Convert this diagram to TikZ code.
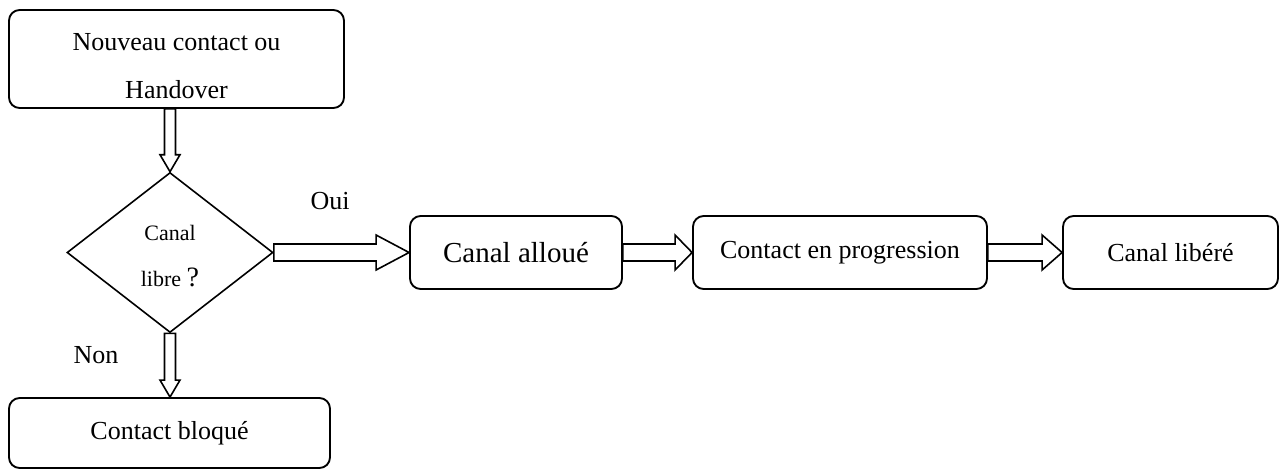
\documentclass[tikz,border=0pt]{standalone}
\usepackage{fontspec}
\setmainfont{Liberation Serif}
\usetikzlibrary{shapes.geometric,calc}

\tikzset{
  boite/.style={draw, rounded corners=8pt, line width=1.4pt, minimum height=54.75pt, inner sep=2pt, font=\fontsize{19.5}{23}\selectfont},
  test/.style={draw, diamond, line width=1.2pt, minimum width=154.5pt, minimum height=120pt, inner sep=0pt, align=center, font=\fontsize{16.5}{34.5}\selectfont},
  etiq/.style={inner sep=0.75pt, font=\fontsize{19.5}{23}\selectfont},
  grosse/.style={draw, line width=1.2pt, fill=white}
}

% fleche creuse verticale : depart, pointe
\newcommand{\flecheV}[2]{%
  \draw[grosse] ($(#1)+(-5.5,0)$) -- ($(#2)+(-5.5,-17)$) -- ($(#2)+(-10,-17)$) -- (#2) -- ($(#2)+(10,-17)$) -- ($(#2)+(5.5,-17)$) -- ($(#1)+(5.5,0)$) -- cycle;}
% fleche creuse horizontale : longueur de tete, depart, pointe
\newcommand{\flecheH}[3]{%
  \draw[grosse] ($(#2)+(0,-8.5)$) -- ($(#3)+(-#1,-8.5)$) -- ($(#3)+(-#1,-17.5)$) -- (#3) -- ($(#3)+(-#1,17.5)$) -- ($(#3)+(-#1,8.5)$) -- ($(#2)+(0,8.5)$) -- cycle;}

\begin{document}
\begin{tikzpicture}[x=0.75pt,y=0.75pt,yscale=-1]
    \useasboundingbox (0,0) rectangle (1280,472);

    % Boites
    \node[boite, minimum width=251.25pt, minimum height=73.5pt, align=center, font=\fontsize{19.5}{36}\selectfont, text height=60pt] (debut) at (176.5,59) {Nouveau contact ou\\Handover};
    \node[test, text height=51pt] (canal) at (170,252.5) {Canal\\libre {\fontsize{21}{34.5}\selectfont ?}};
    \node[boite, minimum width=159pt, font=\fontsize{21.75}{26}\selectfont] (alloue) at (516,252.5) {Canal alloué};
    \node[boite, minimum width=220.5pt] (progres) at (840,252.5) {Contact en progression};
    \node[boite, minimum width=161.25pt] (libere) at (1170.5,252.5) {Canal libéré};
    \node[boite, minimum width=240.75pt, minimum height=52.5pt] (bloque) at (169.5,433) {Contact bloqué};

    % Fleches
    \flecheV{canal.north |- debut.south}{canal.north}
    \flecheV{canal.south}{canal.south |- bloque.north}
    \flecheH{33}{canal.east}{alloue.west}
    \flecheH{17}{alloue.east}{progres.west}
    \flecheH{20}{progres.east}{libere.west}

    % Etiquettes
    \node[etiq] (oui) at (330,201) {Oui};
    \node[etiq] (non) at (96,355) {Non};

\end{tikzpicture}
\end{document}
